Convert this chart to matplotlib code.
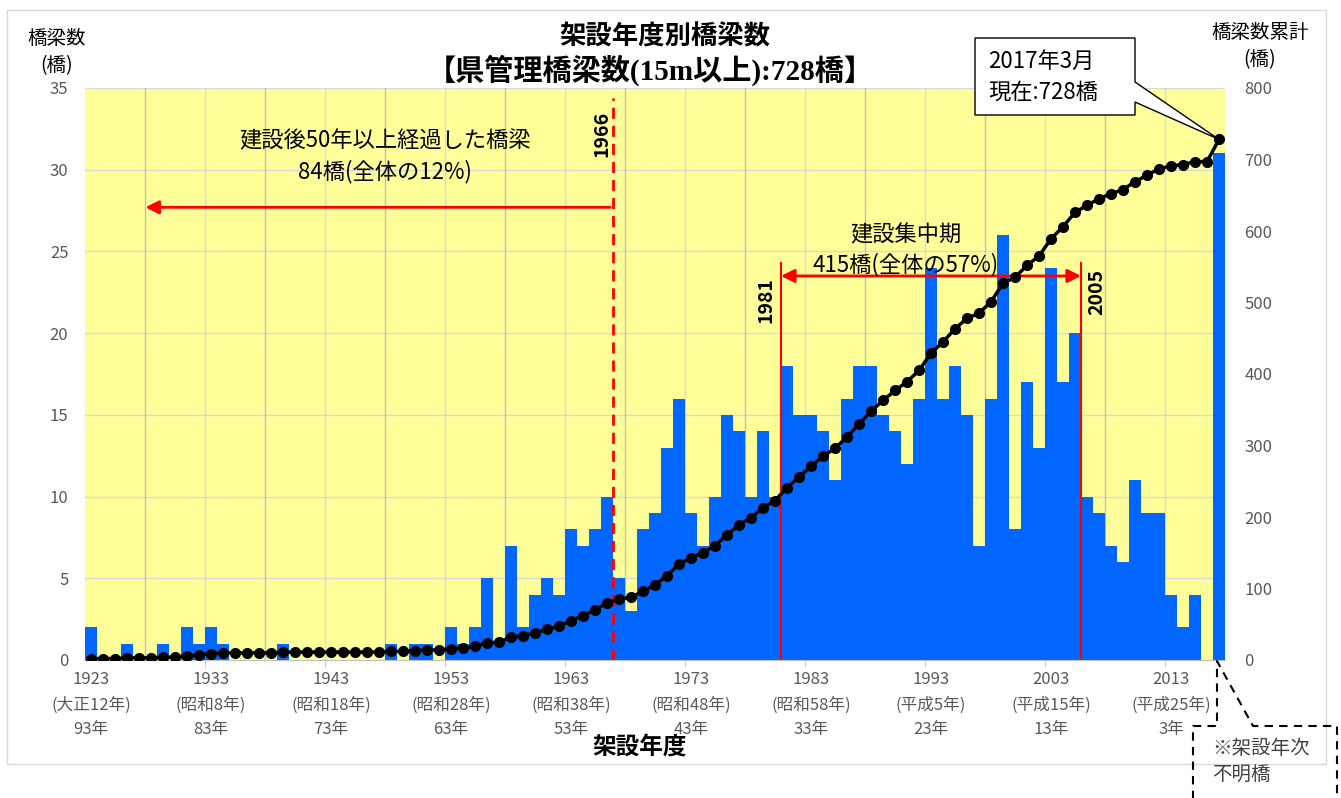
import matplotlib
matplotlib.use("Agg")
import matplotlib.pyplot as plt
from matplotlib.patches import Polygon, Rectangle
from matplotlib.lines import Line2D
import numpy as np

plt.rcParams['font.family'] = ['Noto Sans CJK JP', 'DejaVu Sans']

# bridges per construction year, 1923..2016, then "unknown year"
years = list(range(1923, 2017))
counts = [2, 0, 0, 1, 0, 0, 1, 0, 2, 1,          # 1923-1932
          2, 1, 0, 0, 0, 0, 1, 0, 0, 0,          # 1933-1942
          0, 0, 0, 0, 0, 1, 0, 1, 1, 0,          # 1943-1952
          2, 1, 2, 5, 1, 7, 2, 4, 5, 4,          # 1953-1962
          8, 7, 8, 10, 5, 3, 8, 9, 13, 16,       # 1963-1972
          9, 7, 10, 15, 14, 10, 14, 10, 18, 15,  # 1973-1982
          15, 14, 11, 16, 18, 18, 15, 14, 12, 16,  # 1983-1992
          24, 16, 18, 15, 7, 16, 26, 8, 17, 13,  # 1993-2002
          24, 17, 20, 10, 9, 7, 6, 11, 9, 9,     # 2003-2012
          4, 2, 4, 0]                            # 2013-2016
unknown_count = 31
all_counts = counts + [unknown_count]
cumulative = np.cumsum(all_counts)

tick_years = ["1923", "1933", "1943", "1953", "1963", "1973", "1983", "1993", "2003", "2013"]
tick_eras = ["(大正12年)", "(昭和8年)", "(昭和18年)", "(昭和28年)", "(昭和38年)",
             "(昭和48年)", "(昭和58年)", "(平成5年)", "(平成15年)", "(平成25年)"]
tick_ages = ["93年", "83年", "73年", "63年", "53年", "43年", "33年", "23年", "13年", "3年"]

W, H = 1341, 798


def px(x, y):
    return x / W, 1 - y / H


fig = plt.figure(figsize=(W / 100, H / 100), dpi=100)
fig.patch.set_facecolor("white")
fig.add_artist(Rectangle(px(7, 764), 1319 / W, 754 / H, transform=fig.transFigure,
                         fill=False, edgecolor="#D9D9D9", lw=1))

ax = fig.add_axes([85 / W, 1 - 660 / H, 1140 / W, 572 / H])
ax.set_facecolor("#FFFF99")
n = len(all_counts)
xs = np.arange(n)
ax.set_xlim(-0.5, n - 0.5)
ax.set_ylim(0, 35)

# gridlines
for yv in range(5, 36, 5):
    ax.axhline(yv, color="#D9D9D9", lw=1, zorder=0.5)
for k in range(5, n, 10):
    ax.axvline(k - 0.5, color="#BFBFBF", lw=1, zorder=0.5)
for k in range(10, n, 10):
    ax.axvline(k - 0.5, color="#D9D9D9", lw=1, zorder=0.5)

ax.bar(xs, all_counts, width=1.0, color="#0066FF", zorder=2)

ax.set_yticks(range(0, 36, 5))
ax.tick_params(axis="y", length=0, labelsize=12, labelcolor="#595959", pad=12)
ax.set_xticks(range(0, 100, 10))
ax.set_xticklabels([f"{a}\n{b}\n{c}" for a, b, c in zip(tick_years, tick_eras, tick_ages)],
                   linespacing=1.6)
ax.tick_params(axis="x", length=0, labelsize=12, labelcolor="#595959", pad=8)
ax.set_xticks(np.arange(9.5, n, 10), minor=True)
ax.tick_params(axis="x", which="minor", length=5, color="#BFBFBF", direction="out")
for s in ["top", "left", "right"]:
    ax.spines[s].set_visible(False)
ax.spines["bottom"].set_color("#BFBFBF")

ax2 = ax.twinx()
ax2.set_ylim(0, 800)
ax2.set_yticks(range(0, 801, 100))
ax2.tick_params(axis="y", length=0, labelsize=12, labelcolor="#595959", pad=14)
for s in ax2.spines.values():
    s.set_visible(False)
ax2.plot(xs, cumulative, color="black", lw=2.5, marker="o", markersize=7, zorder=5)

# red markers: 1966 and 1981-2005
red = "#FF0000"
ax.plot([43.5, 43.5], [0, 34.4], color=red, lw=2, ls=(0, (4, 2.5)), zorder=6)
ax.annotate("", xy=(4.3, 27.7), xytext=(43.5, 27.7),
            arrowprops=dict(arrowstyle="-|>", color=red, lw=2, mutation_scale=20), zorder=6)
ax.text(42.6, 32.2, "1966", rotation=90, ha="center", va="center", fontsize=14,
        fontweight="bold", zorder=7)
ax.text(24.5, 30.8, "建設後50年以上経過した橋梁\n84橋(全体の12%)", ha="center", va="center",
        fontsize=16, linespacing=1.4, zorder=7)

ax.plot([57.5, 57.5], [0, 24.3], color=red, lw=1.5, zorder=6)
ax.plot([82.5, 82.5], [0, 24.3], color=red, lw=1.5, zorder=6)
ax.annotate("", xy=(57.5, 23.5), xytext=(82.5, 23.5),
            arrowprops=dict(arrowstyle="<|-|>", color=red, lw=2, mutation_scale=20,
                            shrinkA=0, shrinkB=0), zorder=6)
ax.text(56.2, 22.0, "1981", rotation=90, ha="center", va="center", fontsize=14,
        fontweight="bold", zorder=7)
ax.text(83.8, 22.5, "2005", rotation=90, ha="center", va="center", fontsize=14,
        fontweight="bold", zorder=7)
ax.text(67.9, 25.1, "建設集中期\n415橋(全体の57%)", ha="center", va="center",
        fontsize=16, linespacing=1.35, zorder=7)

# titles
title_font = ['Liberation Serif', 'Noto Sans CJK JP']
fig.text(*px(665, 37), "架設年度別橋梁数", ha="center", va="center", fontsize=19,
         fontweight="bold")
fig.text(*px(650, 70), "【県管理橋梁数(15m以上):728橋】", ha="center", va="center",
         fontsize=21, fontweight="bold", family=title_font)
fig.text(*px(57, 38), "橋梁数", ha="center", va="center", fontsize=14)
fig.text(*px(57, 66), "(橋)", ha="center", va="center", fontsize=14)
fig.text(*px(1260, 33), "橋梁数累計", ha="center", va="center", fontsize=14)
fig.text(*px(1260, 60), "(橋)", ha="center", va="center", fontsize=14)
fig.text(*px(640, 747), "架設年度", ha="center", va="center", fontsize=17,
         fontweight="bold")

# callout for the total
last_x, last_y = 85 + 12 * 94.5, 660 - cumulative[-1] * 572 / 800
callout = [(975, 38), (1135, 38), (1135, 82), (last_x, last_y), (1135, 102),
           (1135, 115), (975, 115)]
fig.add_artist(Polygon([px(*p) for p in callout], closed=True, transform=fig.transFigure,
                       facecolor="white", edgecolor="black", lw=1, zorder=8))
fig.text(*px(988, 61), "2017年3月", ha="left", va="center", fontsize=16, zorder=9)
fig.text(*px(988, 92), "現在:728橋", ha="left", va="center", fontsize=16, zorder=9)

# dashed note for unknown year
note = [(1193, 800), (1193, 726), (1217, 726), (1217, 661), (1253, 726), (1337, 726),
        (1337, 800)]
fig.add_artist(Line2D([px(*p)[0] for p in note], [px(*p)[1] for p in note],
                      transform=fig.transFigure, color="black", lw=1.5, ls=(0, (4, 3))))
fig.text(*px(1212, 748), "※架設年次", ha="left", va="center", fontsize=14,
         color="#404040")
fig.text(*px(1212, 775), "不明橋", ha="left", va="center", fontsize=14, color="#404040")

fig.savefig("out.png", dpi=100)
